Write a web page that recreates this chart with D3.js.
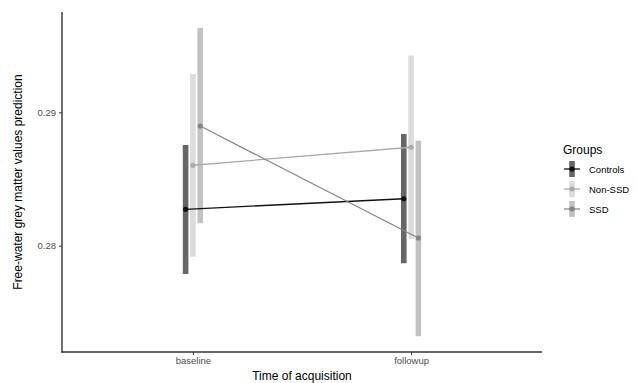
<!DOCTYPE html>
<html>
<head>
<meta charset="utf-8">
<script src="https://cdn.jsdelivr.net/npm/d3@7"></script>
<style>
  body { margin: 0; background: #fff; }
  svg { display: block; font-family: "Liberation Sans", Arial, Helvetica, sans-serif; }
</style>
</head>
<body>
<svg id="chart" width="638" height="383"></svg>
<script>
// Predicted free-water values with intervals, per group and time point
const times = ["baseline", "followup"];
const groups = ["Controls", "Non-SSD", "SSD"];
const controlsFit = [0.28273, 0.28352];
const controlsLow = [0.27788, 0.27868];
const controlsHigh = [0.28755, 0.28837];
const nonSsdFit = [0.28603, 0.28738];
const nonSsdLow = [0.27917, 0.28050];
const nonSsdHigh = [0.29287, 0.29426];
const ssdFit = [0.28897, 0.28058];
const ssdLow = [0.28168, 0.27322];
const ssdHigh = [0.29632, 0.28787];
const yTicks = [0.28, 0.29];

const series = [
  { name: groups[0], fit: controlsFit, low: controlsLow, high: controlsHigh,
    bar: "#666666", line: "#111111" },
  { name: groups[1], fit: nonSsdFit, low: nonSsdLow, high: nonSsdHigh,
    bar: "#dcdcdc", line: "#ababab" },
  { name: groups[2], fit: ssdFit, low: ssdLow, high: ssdHigh,
    bar: "#c2c2c2", line: "#858585" }
];

const svg = d3.select("#chart");
const panel = { left: 62, right: 542, top: 12, bottom: 352 };

// Discrete x with ggplot-style padding of 0.6 category on each side
const x = d3.scaleLinear().domain([0.4, 2.6]).range([panel.left, panel.right]);
const xPos = t => x(times.indexOf(t) + 1);
const dodge = d3.scalePoint().domain(groups).range([-7.3, 7.3]);

const y = d3.scaleLinear().domain([0.28, 0.29]).range([245.7, 112.3]);

// Error bars
series.forEach(s => {
  svg.append("g").selectAll("line")
    .data(times)
    .join("line")
    .attr("x1", (t) => xPos(t) + dodge(s.name))
    .attr("x2", (t) => xPos(t) + dodge(s.name))
    .attr("y1", (t, i) => y(s.low[i]))
    .attr("y2", (t, i) => y(s.high[i]))
    .attr("stroke", s.bar)
    .attr("stroke-width", 5.6);
});

// Connecting lines
const lineGen = d3.line()
  .x(d => d.x)
  .y(d => d.y);
series.forEach(s => {
  const pts = times.map((t, i) => ({ x: xPos(t) + dodge(s.name), y: y(s.fit[i]) }));
  svg.append("path")
    .attr("d", lineGen(pts))
    .attr("fill", "none")
    .attr("stroke", s.line)
    .attr("stroke-width", 1.3);
});

// Points
series.forEach(s => {
  svg.append("g").selectAll("circle")
    .data(times)
    .join("circle")
    .attr("cx", t => xPos(t) + dodge(s.name))
    .attr("cy", (t, i) => y(s.fit[i]))
    .attr("r", 2.6)
    .attr("fill", s.line);
});

// Axes
const axisColor = "#333333";
const textColor = "#4d4d4d";

const yAxis = svg.append("g")
  .attr("transform", `translate(${panel.left},0)`)
  .call(d3.axisLeft(y).tickValues(yTicks).tickFormat(d3.format(".2f")).tickSize(3).tickPadding(3));
yAxis.select(".domain").remove();
yAxis.selectAll(".tick line").attr("stroke", axisColor);
yAxis.selectAll("text").attr("fill", textColor).style("font-size", "9.5px");

const xAxis = svg.append("g")
  .attr("transform", `translate(0,${panel.bottom})`)
  .call(d3.axisBottom(x).tickValues([1, 2]).tickFormat(d => times[d - 1]).tickSize(3).tickPadding(2));
xAxis.select(".domain").remove();
xAxis.selectAll(".tick line").attr("stroke", axisColor);
xAxis.selectAll("text").attr("fill", textColor).style("font-size", "9.5px");

svg.append("line")
  .attr("x1", panel.left).attr("x2", panel.left)
  .attr("y1", panel.top).attr("y2", panel.bottom + 0.7)
  .attr("stroke", axisColor).attr("stroke-width", 1.4);
svg.append("line")
  .attr("x1", panel.left - 0.7).attr("x2", panel.right)
  .attr("y1", panel.bottom).attr("y2", panel.bottom)
  .attr("stroke", axisColor).attr("stroke-width", 1.4);

// Axis titles
svg.append("text")
  .attr("x", (panel.left + panel.right) / 2)
  .attr("y", 380)
  .attr("text-anchor", "middle")
  .style("font-size", "12px")
  .attr("fill", "#000")
  .text("Time of acquisition");

svg.append("text")
  .attr("transform", `translate(22,${(panel.top + panel.bottom) / 2}) rotate(-90)`)
  .attr("text-anchor", "middle")
  .style("font-size", "12px")
  .attr("fill", "#000")
  .text("Free-water grey matter values prediction");

// Legend
const legend = svg.append("g").attr("transform", "translate(563,0)");
legend.append("text")
  .attr("x", 0).attr("y", 154)
  .style("font-size", "12px")
  .attr("fill", "#000")
  .text("Groups");

series.forEach((s, i) => {
  const cy = 169 + i * 20;
  const g = legend.append("g").attr("transform", `translate(9,${cy})`);
  g.append("line").attr("x1", 0).attr("x2", 0).attr("y1", -8).attr("y2", 8)
    .attr("stroke", s.bar).attr("stroke-width", 5.6);
  g.append("line").attr("x1", -8).attr("x2", 8).attr("y1", 0).attr("y2", 0)
    .attr("stroke", s.line).attr("stroke-width", 1.3);
  g.append("circle").attr("r", 2.6).attr("fill", s.line);
  legend.append("text")
    .attr("x", 26).attr("y", cy + 3.5)
    .style("font-size", "9.5px")
    .attr("fill", "#000")
    .text(s.name);
});
</script>
</body>
</html>
